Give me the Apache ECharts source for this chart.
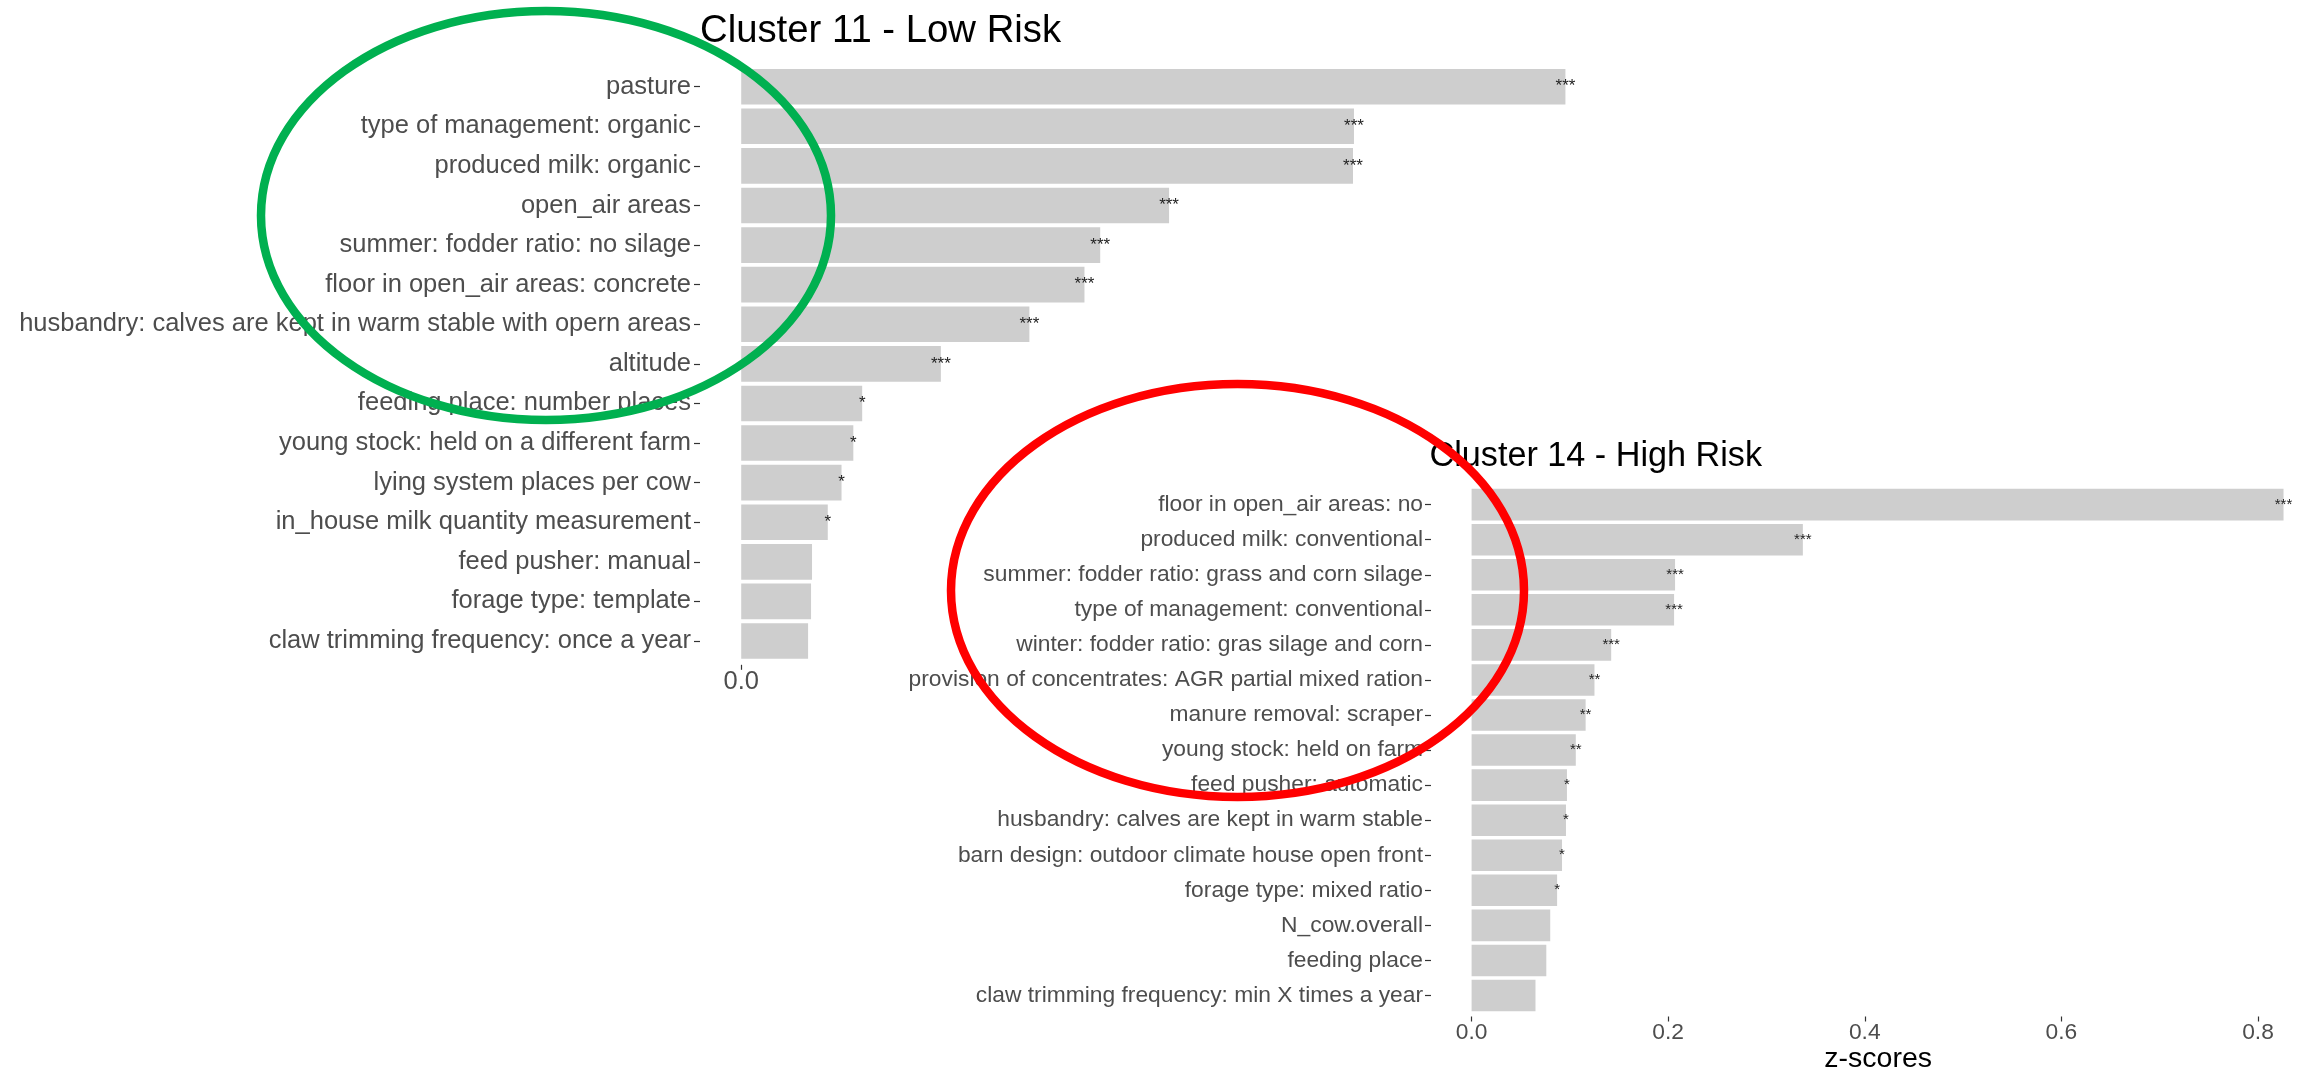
<!DOCTYPE html>
<html>
<head>
<meta charset="utf-8">
<title>Cluster feature z-scores</title>
<script src="https://cdn.jsdelivr.net/npm/echarts@6/dist/echarts.min.js"></script>
<style>
  html, body { margin: 0; padding: 0; background: #ffffff; }
  #chart { width: 2306px; height: 1075px; }
</style>
</head>
<body>
<div id="chart"></div>
<script>
// Cluster 11 (low risk) – features ordered by z-score
const lowRiskCategories = [
  'pasture',
  'type of management: organic',
  'produced milk: organic',
  'open_air areas',
  'summer: fodder ratio: no silage',
  'floor in open_air areas: concrete',
  'husbandry: calves are kept in warm stable with opern areas',
  'altitude',
  'feeding place: number places',
  'young stock: held on a different farm',
  'lying system places per cow',
  'in_house milk quantity measurement',
  'feed pusher: manual',
  'forage type: template',
  'claw trimming frequency: once a year'
];
const lowRiskScores = [0.838, 0.623, 0.622, 0.435, 0.365, 0.349, 0.293, 0.203, 0.123, 0.114, 0.102, 0.088, 0.072, 0.071, 0.068];
const lowRiskStars = ['***', '***', '***', '***', '***', '***', '***', '***', '*', '*', '*', '*', '', '', ''];
const lowRiskTicks = [0];

// Cluster 14 (high risk)
const highRiskCategories = [
  'floor in open_air areas: no',
  'produced milk: conventional',
  'summer: fodder ratio: grass and corn silage',
  'type of management: conventional',
  'winter: fodder ratio: gras silage and corn',
  'provision of concentrates: AGR partial mixed ration',
  'manure removal: scraper',
  'young stock: held on farm',
  'feed pusher: automatic',
  'husbandry: calves are kept in warm stable',
  'barn design: outdoor climate house open front',
  'forage type: mixed ratio',
  'N_cow.overall',
  'feeding place',
  'claw trimming frequency: min X times a year'
];
const highRiskScores = [0.826, 0.337, 0.207, 0.206, 0.142, 0.125, 0.116, 0.106, 0.097, 0.096, 0.092, 0.087, 0.080, 0.076, 0.065];
const highRiskStars = ['***', '***', '***', '***', '***', '**', '**', '**', '*', '*', '*', '*', '', '', ''];
const highRiskTicks = [0, 0.2, 0.4, 0.6, 0.8];

const FONT = '"Liberation Sans", Arial, Helvetica, sans-serif';
const BAR_COLOR = '#CECECE';
const AXIS_TEXT = '#4D4D4D';

// value axis padded a little below zero, so the bars start slightly right of the category ticks
function valueAxis(gridIndex, ticks, fontSize, lowPad, offset, margin, name) {
  return {
    type: 'value',
    gridIndex: gridIndex,
    min: -lowPad,
    max: 0.84,
    offset: offset,
    axisLine: { show: false, onZero: false },
    splitLine: { show: false },
    axisTick: {
      show: true,
      length: 5,
      customValues: ticks,
      lineStyle: { color: '#333333', width: 1.2 }
    },
    axisLabel: {
      customValues: ticks,
      margin: margin,
      fontFamily: FONT,
      fontSize: fontSize,
      color: AXIS_TEXT,
      formatter: function (v) { return v.toFixed(1); }
    },
    name: name || '',
    nameLocation: 'middle',
    nameGap: 25.5,
    nameTextStyle: { fontFamily: FONT, fontSize: 28.5, color: '#000000', padding: [0, 0, 0, 28] }
  };
}

function categoryAxis(gridIndex, categories, fontSize, margin) {
  return {
    type: 'category',
    gridIndex: gridIndex,
    data: categories,
    inverse: true,
    axisLine: { show: false, onZero: false },
    splitLine: { show: false },
    axisTick: {
      show: true,
      alignWithLabel: true,
      length: 6,
      lineStyle: { color: '#333333', width: 1.2 }
    },
    axisLabel: {
      margin: margin,
      interval: 0,
      fontFamily: FONT,
      fontSize: fontSize,
      color: AXIS_TEXT
    }
  };
}

function barSeries(axisIndex, values, stars, starSize) {
  return {
    type: 'bar',
    xAxisIndex: axisIndex,
    yAxisIndex: axisIndex,
    data: values,
    barWidth: '90%',
    itemStyle: { color: BAR_COLOR },
    silent: true,
    label: {
      show: true,
      position: 'right',
      distance: 0,
      align: 'center',
      fontFamily: FONT,
      fontSize: starSize,
      color: '#222222',
      formatter: function (p) { return stars[p.dataIndex]; }
    }
  };
}

const chart = echarts.init(document.getElementById('chart'), null, { renderer: 'canvas' });

chart.setOption({
  backgroundColor: '#ffffff',
  animation: false,
  title: [
    {
      text: 'Cluster 11 - Low Risk',
      left: 700,
      top: 12.7,
      padding: 0,
      textStyle: { fontFamily: FONT, fontSize: 38.3, fontWeight: 'normal', color: '#000000', lineHeight: 38 }
    },
    {
      text: 'Cluster 14 - High Risk',
      left: 1429.5,
      top: 439.6,
      padding: 0,
      textStyle: { fontFamily: FONT, fontSize: 34.2, fontWeight: 'normal', color: '#000000', lineHeight: 34 }
    }
  ],
  grid: [
    { left: 700, top: 66.9, width: 867.4, height: 593.9, containLabel: false },
    { left: 1431, top: 487.1, width: 866.3, height: 530.1, containLabel: false }
  ],
  xAxis: [
    valueAxis(0, lowRiskTicks, 25.5, 0.0419, 4, 4.5),
    valueAxis(1, highRiskTicks, 22.8, 0.0413, 3.5, 4.6, 'z-scores')
  ],
  yAxis: [
    categoryAxis(0, lowRiskCategories, 25.5, 9),
    categoryAxis(1, highRiskCategories, 22.8, 8)
  ],
  series: [
    barSeries(0, lowRiskScores, lowRiskStars, 17),
    barSeries(1, highRiskScores, highRiskStars, 15)
  ],
  // hand-drawn highlight rings around the two label groups
  graphic: [
    {
      type: 'ellipse',
      z: 100,
      silent: true,
      shape: { cx: 546, cy: 215.5, rx: 285, ry: 204.5 },
      style: { fill: 'none', stroke: '#00B050', lineWidth: 8.5 }
    },
    {
      type: 'ellipse',
      z: 100,
      silent: true,
      shape: { cx: 1237.5, cy: 590.5, rx: 286.5, ry: 206.5 },
      style: { fill: 'none', stroke: '#FF0000', lineWidth: 8.5 }
    }
  ]
});
</script>
</body>
</html>
